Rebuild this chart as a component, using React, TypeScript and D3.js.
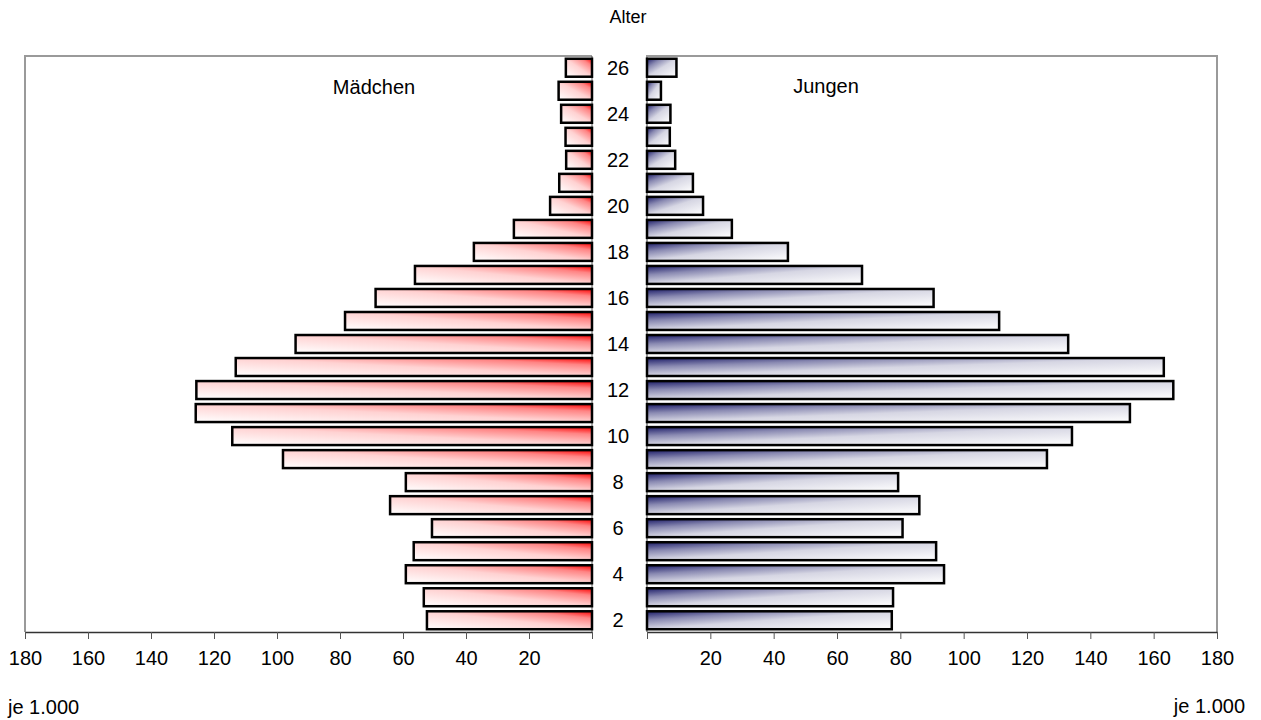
import { useEffect, useRef } from "react";
import * as d3 from "d3";

const ages = [2, 3, 4, 5, 6, 7, 8, 9, 10, 11, 12, 13, 14, 15, 16, 17, 18, 19, 20, 21, 22, 23, 24, 25, 26];
const maedchen = [52.4, 53.4, 59.1, 56.6, 50.8, 64.1, 59.1, 98.1, 114.2, 125.8, 125.6, 113.1, 94.1, 78.4, 68.7, 56.2, 37.5, 24.8, 13.3, 10.4, 8.2, 8.4, 9.8, 10.6, 8.3];
const jungen = [77.3, 77.7, 93.8, 91.3, 80.7, 86.0, 79.3, 126.3, 134.2, 152.5, 166.2, 163.2, 133.0, 111.2, 90.5, 67.9, 44.5, 26.8, 17.7, 14.5, 8.9, 7.2, 7.4, 4.4, 9.3];
const tickValues = [0, 20, 40, 60, 80, 100, 120, 140, 160, 180];

const FONT = "'Liberation Sans', Arial, sans-serif";

const App = () => {
  const svgRef = useRef<SVGSVGElement>(null);

  useEffect(() => {
    const svg = d3.select(svgRef.current);
    svg.selectAll("*").remove();

    const top = 56;
    const bottom = 632;

    const y = d3
      .scaleBand<number>()
      .domain([...ages].reverse())
      .range([top, bottom])
      .paddingInner(0.22)
      .paddingOuter(0.12);

    const xL = d3.scaleLinear().domain([0, 180]).range([592, 25]);
    const xR = d3.scaleLinear().domain([0, 180]).range([647, 1217]);

    // gradients (diagonal, like the spreadsheet fill)
    const defs = svg.append("defs");
    const red = defs
      .append("linearGradient")
      .attr("id", "gradRed")
      .attr("x1", 0)
      .attr("y1", 1)
      .attr("x2", 1)
      .attr("y2", 0);
    [
      ["0%", "#ffffff"],
      ["50%", "#ffd2d2"],
      ["80%", "#ff8484"],
      ["100%", "#ff0000"],
    ].forEach(([o, c]) => red.append("stop").attr("offset", o).attr("stop-color", c));

    const blue = defs
      .append("linearGradient")
      .attr("id", "gradBlue")
      .attr("x1", 0)
      .attr("y1", 0)
      .attr("x2", 1)
      .attr("y2", 1);
    [
      ["0%", "#1c1c68"],
      ["25%", "#8a8ab2"],
      ["50%", "#d6d6e3"],
      ["100%", "#ffffff"],
    ].forEach(([o, c]) => blue.append("stop").attr("offset", o).attr("stop-color", c));

    // frames
    svg
      .append("path")
      .attr("d", `M${xL(0)},${top}H${xL(180)}V${bottom}`)
      .attr("fill", "none")
      .attr("stroke", "#9a9a9a")
      .attr("stroke-width", 2);
    svg
      .append("line")
      .attr("x1", xL(0))
      .attr("x2", xL(0))
      .attr("y1", top)
      .attr("y2", bottom)
      .attr("stroke", "#555")
      .attr("stroke-width", 1);
    svg
      .append("path")
      .attr("d", `M${xR(0)},${bottom}V${top}H${xR(180)}V${bottom}`)
      .attr("fill", "none")
      .attr("stroke", "#9a9a9a")
      .attr("stroke-width", 2);

    // bars
    svg
      .append("g")
      .selectAll("rect")
      .data(ages)
      .enter()
      .append("rect")
      .attr("x", (d, i) => xL(maedchen[i]))
      .attr("y", (d) => y(d)!)
      .attr("width", (d, i) => xL(0) - xL(maedchen[i]))
      .attr("height", y.bandwidth())
      .attr("fill", "url(#gradRed)")
      .attr("stroke", "#000")
      .attr("stroke-width", 2.5);

    svg
      .append("g")
      .selectAll("rect")
      .data(ages)
      .enter()
      .append("rect")
      .attr("x", xR(0))
      .attr("y", (d) => y(d)!)
      .attr("width", (d, i) => xR(jungen[i]) - xR(0))
      .attr("height", y.bandwidth())
      .attr("fill", "url(#gradBlue)")
      .attr("stroke", "#000")
      .attr("stroke-width", 2.5);

    // axes
    const fmt = (d: d3.NumberValue) => (+d === 0 ? "" : String(d));
    const styleAxis = (g: d3.Selection<SVGGElement, unknown, null, undefined>) => {
      g.select(".domain").attr("stroke", "#333").attr("stroke-width", 1.5);
      g.selectAll(".tick line").attr("stroke", "#555");
      g.selectAll(".tick text").attr("fill", "#000");
      g.attr("font-family", FONT).attr("font-size", 20);
    };

    svg
      .append("g")
      .attr("transform", `translate(0, ${bottom})`)
      .call(d3.axisBottom(xL).tickValues(tickValues).tickFormat(fmt).tickSize(7).tickSizeOuter(0).tickPadding(12))
      .call(styleAxis);

    svg
      .append("g")
      .attr("transform", `translate(0, ${bottom})`)
      .call(d3.axisBottom(xR).tickValues(tickValues).tickFormat(fmt).tickSize(7).tickSizeOuter(0).tickPadding(12))
      .call(styleAxis);

    // age labels
    svg
      .append("g")
      .selectAll("text")
      .data(ages.filter((a) => a % 2 === 0))
      .enter()
      .append("text")
      .attr("x", 618)
      .attr("y", (d) => y(d)! + y.bandwidth() / 2)
      .attr("dy", "0.35em")
      .attr("text-anchor", "middle")
      .attr("font-family", FONT)
      .attr("font-size", 20)
      .text((d) => d);

    const label = (x: number, yy: number, txt: string, anchor: string, size: number) =>
      svg
        .append("text")
        .attr("x", x)
        .attr("y", yy)
        .attr("text-anchor", anchor)
        .attr("font-family", FONT)
        .attr("font-size", size)
        .text(txt);

    label(628, 23, "Alter", "middle", 18);
    label(374, 94, "Mädchen", "middle", 20);
    label(826, 93, "Jungen", "middle", 20);
    label(8, 714, "je 1.000", "start", 20);
    label(1245, 713, "je 1.000", "end", 20);
  }, []);

  return <svg ref={svgRef} width={1261} height={720} style={{ position: "absolute", left: 0, top: 0 }} />;
};

export default App;
